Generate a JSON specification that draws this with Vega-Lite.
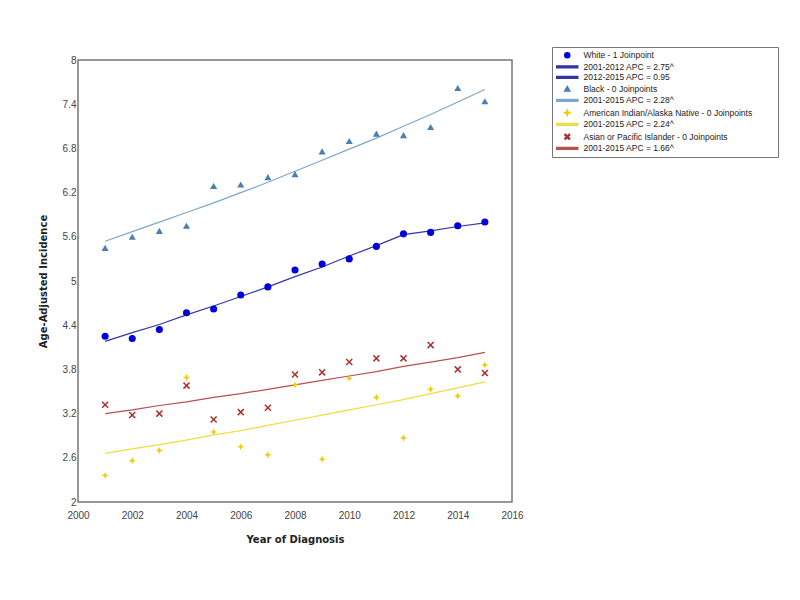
{
  "$schema": "https://vega.github.io/schema/vega-lite/v6.json",
  "width": 434,
  "height": 442,
  "autosize": {"type": "none"},
  "padding": {"left": 78, "top": 60, "right": 288, "bottom": 98},
  "background": "white",
  "config": {
    "view": {"stroke": "#777777", "strokeWidth": 1.5},
    "axis": {
      "domain": false,
      "ticks": false,
      "grid": false,
      "labelFlush": false,
      "labelOverlap": false,
      "labelFont": "Liberation Sans",
      "labelFontSize": 10,
      "labelColor": "#444444",
      "titleFont": "DejaVu Sans",
      "titleFontSize": 10,
      "titleFontWeight": "bold",
      "titleColor": "#222222"
    }
  },
  "datasets": {
    "obs": [
      {"year": 2001, "value": 4.25, "label": "White - 1 Joinpoint"},
      {"year": 2002, "value": 4.22, "label": "White - 1 Joinpoint"},
      {"year": 2003, "value": 4.34, "label": "White - 1 Joinpoint"},
      {"year": 2004, "value": 4.57, "label": "White - 1 Joinpoint"},
      {"year": 2005, "value": 4.62, "label": "White - 1 Joinpoint"},
      {"year": 2006, "value": 4.81, "label": "White - 1 Joinpoint"},
      {"year": 2007, "value": 4.92, "label": "White - 1 Joinpoint"},
      {"year": 2008, "value": 5.15, "label": "White - 1 Joinpoint"},
      {"year": 2009, "value": 5.23, "label": "White - 1 Joinpoint"},
      {"year": 2010, "value": 5.30, "label": "White - 1 Joinpoint"},
      {"year": 2011, "value": 5.47, "label": "White - 1 Joinpoint"},
      {"year": 2012, "value": 5.64, "label": "White - 1 Joinpoint"},
      {"year": 2013, "value": 5.66, "label": "White - 1 Joinpoint"},
      {"year": 2014, "value": 5.75, "label": "White - 1 Joinpoint"},
      {"year": 2015, "value": 5.80, "label": "White - 1 Joinpoint"},
      {"year": 2001, "value": 5.45, "label": "Black - 0 Joinpoints"},
      {"year": 2002, "value": 5.60, "label": "Black - 0 Joinpoints"},
      {"year": 2003, "value": 5.68, "label": "Black - 0 Joinpoints"},
      {"year": 2004, "value": 5.75, "label": "Black - 0 Joinpoints"},
      {"year": 2005, "value": 6.29, "label": "Black - 0 Joinpoints"},
      {"year": 2006, "value": 6.31, "label": "Black - 0 Joinpoints"},
      {"year": 2007, "value": 6.41, "label": "Black - 0 Joinpoints"},
      {"year": 2008, "value": 6.45, "label": "Black - 0 Joinpoints"},
      {"year": 2009, "value": 6.76, "label": "Black - 0 Joinpoints"},
      {"year": 2010, "value": 6.90, "label": "Black - 0 Joinpoints"},
      {"year": 2011, "value": 7.00, "label": "Black - 0 Joinpoints"},
      {"year": 2012, "value": 6.98, "label": "Black - 0 Joinpoints"},
      {"year": 2013, "value": 7.09, "label": "Black - 0 Joinpoints"},
      {"year": 2014, "value": 7.62, "label": "Black - 0 Joinpoints"},
      {"year": 2015, "value": 7.44, "label": "Black - 0 Joinpoints"},
      {"year": 2001, "value": 2.36, "label": "American Indian/Alaska Native - 0 Joinpoints"},
      {"year": 2002, "value": 2.56, "label": "American Indian/Alaska Native - 0 Joinpoints"},
      {"year": 2003, "value": 2.70, "label": "American Indian/Alaska Native - 0 Joinpoints"},
      {"year": 2004, "value": 3.69, "label": "American Indian/Alaska Native - 0 Joinpoints"},
      {"year": 2005, "value": 2.95, "label": "American Indian/Alaska Native - 0 Joinpoints"},
      {"year": 2006, "value": 2.75, "label": "American Indian/Alaska Native - 0 Joinpoints"},
      {"year": 2007, "value": 2.64, "label": "American Indian/Alaska Native - 0 Joinpoints"},
      {"year": 2008, "value": 3.59, "label": "American Indian/Alaska Native - 0 Joinpoints"},
      {"year": 2009, "value": 2.58, "label": "American Indian/Alaska Native - 0 Joinpoints"},
      {"year": 2010, "value": 3.68, "label": "American Indian/Alaska Native - 0 Joinpoints"},
      {"year": 2011, "value": 3.42, "label": "American Indian/Alaska Native - 0 Joinpoints"},
      {"year": 2012, "value": 2.87, "label": "American Indian/Alaska Native - 0 Joinpoints"},
      {"year": 2013, "value": 3.53, "label": "American Indian/Alaska Native - 0 Joinpoints"},
      {"year": 2014, "value": 3.44, "label": "American Indian/Alaska Native - 0 Joinpoints"},
      {"year": 2015, "value": 3.86, "label": "American Indian/Alaska Native - 0 Joinpoints"},
      {"year": 2001, "value": 3.32, "label": "Asian or Pacific Islander - 0 Joinpoints"},
      {"year": 2002, "value": 3.18, "label": "Asian or Pacific Islander - 0 Joinpoints"},
      {"year": 2003, "value": 3.20, "label": "Asian or Pacific Islander - 0 Joinpoints"},
      {"year": 2004, "value": 3.58, "label": "Asian or Pacific Islander - 0 Joinpoints"},
      {"year": 2005, "value": 3.12, "label": "Asian or Pacific Islander - 0 Joinpoints"},
      {"year": 2006, "value": 3.22, "label": "Asian or Pacific Islander - 0 Joinpoints"},
      {"year": 2007, "value": 3.28, "label": "Asian or Pacific Islander - 0 Joinpoints"},
      {"year": 2008, "value": 3.73, "label": "Asian or Pacific Islander - 0 Joinpoints"},
      {"year": 2009, "value": 3.76, "label": "Asian or Pacific Islander - 0 Joinpoints"},
      {"year": 2010, "value": 3.90, "label": "Asian or Pacific Islander - 0 Joinpoints"},
      {"year": 2011, "value": 3.95, "label": "Asian or Pacific Islander - 0 Joinpoints"},
      {"year": 2012, "value": 3.95, "label": "Asian or Pacific Islander - 0 Joinpoints"},
      {"year": 2013, "value": 4.13, "label": "Asian or Pacific Islander - 0 Joinpoints"},
      {"year": 2014, "value": 3.80, "label": "Asian or Pacific Islander - 0 Joinpoints"},
      {"year": 2015, "value": 3.75, "label": "Asian or Pacific Islander - 0 Joinpoints"}
    ],
    "fit": [
      {"year": 2001, "value": 4.18, "seg": "2001-2012 APC = 2.75^"},
      {"year": 2002, "value": 4.30, "seg": "2001-2012 APC = 2.75^"},
      {"year": 2003, "value": 4.41, "seg": "2001-2012 APC = 2.75^"},
      {"year": 2004, "value": 4.54, "seg": "2001-2012 APC = 2.75^"},
      {"year": 2005, "value": 4.66, "seg": "2001-2012 APC = 2.75^"},
      {"year": 2006, "value": 4.79, "seg": "2001-2012 APC = 2.75^"},
      {"year": 2007, "value": 4.92, "seg": "2001-2012 APC = 2.75^"},
      {"year": 2008, "value": 5.06, "seg": "2001-2012 APC = 2.75^"},
      {"year": 2009, "value": 5.19, "seg": "2001-2012 APC = 2.75^"},
      {"year": 2010, "value": 5.34, "seg": "2001-2012 APC = 2.75^"},
      {"year": 2011, "value": 5.48, "seg": "2001-2012 APC = 2.75^"},
      {"year": 2012, "value": 5.63, "seg": "2001-2012 APC = 2.75^"},
      {"year": 2012, "value": 5.63, "seg": "2012-2015 APC = 0.95"},
      {"year": 2013, "value": 5.68, "seg": "2012-2015 APC = 0.95"},
      {"year": 2014, "value": 5.74, "seg": "2012-2015 APC = 0.95"},
      {"year": 2015, "value": 5.79, "seg": "2012-2015 APC = 0.95"},
      {"year": 2001, "value": 5.54, "seg": "2001-2015 APC = 2.28^"},
      {"year": 2002, "value": 5.67, "seg": "2001-2015 APC = 2.28^"},
      {"year": 2003, "value": 5.80, "seg": "2001-2015 APC = 2.28^"},
      {"year": 2004, "value": 5.93, "seg": "2001-2015 APC = 2.28^"},
      {"year": 2005, "value": 6.06, "seg": "2001-2015 APC = 2.28^"},
      {"year": 2006, "value": 6.20, "seg": "2001-2015 APC = 2.28^"},
      {"year": 2007, "value": 6.34, "seg": "2001-2015 APC = 2.28^"},
      {"year": 2008, "value": 6.49, "seg": "2001-2015 APC = 2.28^"},
      {"year": 2009, "value": 6.64, "seg": "2001-2015 APC = 2.28^"},
      {"year": 2010, "value": 6.79, "seg": "2001-2015 APC = 2.28^"},
      {"year": 2011, "value": 6.94, "seg": "2001-2015 APC = 2.28^"},
      {"year": 2012, "value": 7.10, "seg": "2001-2015 APC = 2.28^"},
      {"year": 2013, "value": 7.26, "seg": "2001-2015 APC = 2.28^"},
      {"year": 2014, "value": 7.43, "seg": "2001-2015 APC = 2.28^"},
      {"year": 2015, "value": 7.60, "seg": "2001-2015 APC = 2.28^"},
      {"year": 2001, "value": 2.66, "seg": "2001-2015 APC = 2.24^"},
      {"year": 2002, "value": 2.72, "seg": "2001-2015 APC = 2.24^"},
      {"year": 2003, "value": 2.78, "seg": "2001-2015 APC = 2.24^"},
      {"year": 2004, "value": 2.84, "seg": "2001-2015 APC = 2.24^"},
      {"year": 2005, "value": 2.91, "seg": "2001-2015 APC = 2.24^"},
      {"year": 2006, "value": 2.97, "seg": "2001-2015 APC = 2.24^"},
      {"year": 2007, "value": 3.04, "seg": "2001-2015 APC = 2.24^"},
      {"year": 2008, "value": 3.11, "seg": "2001-2015 APC = 2.24^"},
      {"year": 2009, "value": 3.18, "seg": "2001-2015 APC = 2.24^"},
      {"year": 2010, "value": 3.25, "seg": "2001-2015 APC = 2.24^"},
      {"year": 2011, "value": 3.32, "seg": "2001-2015 APC = 2.24^"},
      {"year": 2012, "value": 3.39, "seg": "2001-2015 APC = 2.24^"},
      {"year": 2013, "value": 3.47, "seg": "2001-2015 APC = 2.24^"},
      {"year": 2014, "value": 3.55, "seg": "2001-2015 APC = 2.24^"},
      {"year": 2015, "value": 3.63, "seg": "2001-2015 APC = 2.24^"},
      {"year": 2001, "value": 3.20, "seg": "2001-2015 APC = 1.66^"},
      {"year": 2002, "value": 3.25, "seg": "2001-2015 APC = 1.66^"},
      {"year": 2003, "value": 3.31, "seg": "2001-2015 APC = 1.66^"},
      {"year": 2004, "value": 3.36, "seg": "2001-2015 APC = 1.66^"},
      {"year": 2005, "value": 3.42, "seg": "2001-2015 APC = 1.66^"},
      {"year": 2006, "value": 3.47, "seg": "2001-2015 APC = 1.66^"},
      {"year": 2007, "value": 3.53, "seg": "2001-2015 APC = 1.66^"},
      {"year": 2008, "value": 3.59, "seg": "2001-2015 APC = 1.66^"},
      {"year": 2009, "value": 3.65, "seg": "2001-2015 APC = 1.66^"},
      {"year": 2010, "value": 3.71, "seg": "2001-2015 APC = 1.66^"},
      {"year": 2011, "value": 3.77, "seg": "2001-2015 APC = 1.66^"},
      {"year": 2012, "value": 3.84, "seg": "2001-2015 APC = 1.66^"},
      {"year": 2013, "value": 3.90, "seg": "2001-2015 APC = 1.66^"},
      {"year": 2014, "value": 3.96, "seg": "2001-2015 APC = 1.66^"},
      {"year": 2015, "value": 4.03, "seg": "2001-2015 APC = 1.66^"}
    ]
  },
  "encoding": {
    "x": {
      "field": "year",
      "type": "quantitative",
      "scale": {"domain": [2000, 2016], "nice": false, "zero": false},
      "axis": {
        "title": "Year of Diagnosis",
        "values": [2000, 2002, 2004, 2006, 2008, 2010, 2012, 2014, 2016],
        "format": "d",
        "labelPadding": 8,
        "titlePadding": 14
      }
    },
    "y": {
      "field": "value",
      "type": "quantitative",
      "scale": {"domain": [2, 8], "nice": false, "zero": false},
      "axis": {
        "title": "Age-Adjusted Incidence",
        "values": [2, 2.6, 3.2, 3.8, 4.4, 5, 5.6, 6.2, 6.8, 7.4, 8],
        "format": "~g",
        "labelPadding": 2,
        "titlePadding": 14
      }
    }
  },
  "layer": [
    {
      "data": {"name": "fit"},
      "mark": {"type": "line", "strokeWidth": 1.2},
      "encoding": {
        "color": {
          "field": "seg",
          "type": "nominal",
          "scale": {
            "domain": ["White - 1 Joinpoint", "2001-2012 APC = 2.75^", "2012-2015 APC = 0.95", "Black - 0 Joinpoints", "2001-2015 APC = 2.28^", "American Indian/Alaska Native - 0 Joinpoints", "2001-2015 APC = 2.24^", "Asian or Pacific Islander - 0 Joinpoints", "2001-2015 APC = 1.66^"],
            "range": ["#0000dd", "#3535aa", "#3535aa", "#4a7fb0", "#7fa7c9", "#f2cc00", "#f0dc40", "#a83232", "#b85050"]
          },
          "legend": {
            "title": " ",
            "titleOrient": "right",
            "titlePadding": 22,
            "orient": "none",
            "legendX": 474,
            "legendY": -13,
            "padding": 4,
            "strokeColor": "#777777",
            "fillColor": "white",
            "labelFont": "Liberation Sans",
            "labelFontSize": 8.5,
            "labelColor": "#222222",
            "labelLimit": 400,
            "labelOffset": 12,
            "symbolOffset": 7,
            "symbolSize": 25,
            "rowPadding": 1.5,
            "encode": {
              "symbols": {
                "update": {
                  "shape": {"scale": "shape", "field": "value"},
                  "fill": {"scale": "color", "field": "value"},
                  "stroke": {"value": "transparent"},
                  "size": {"value": 25},
                  "opacity": {"value": 1}
                }
              }
            }
          }
        }
      }
    },
    {
      "data": {"name": "obs"},
      "mark": {"type": "point", "filled": true, "size": 50, "opacity": 1},
      "encoding": {
        "color": {
          "field": "label",
          "type": "nominal"
        },
        "shape": {
          "field": "label",
          "type": "nominal",
          "scale": {
            "domain": ["White - 1 Joinpoint", "2001-2012 APC = 2.75^", "2012-2015 APC = 0.95", "Black - 0 Joinpoints", "2001-2015 APC = 2.28^", "American Indian/Alaska Native - 0 Joinpoints", "2001-2015 APC = 2.24^", "Asian or Pacific Islander - 0 Joinpoints", "2001-2015 APC = 1.66^"],
            "range": ["circle", "M-4.2,-0.35H4.2V0.35H-4.2Z", "M-4.2,-0.35H4.2V0.35H-4.2Z", "triangle-up", "M-4.2,-0.35H4.2V0.35H-4.2Z", "M0,-1L0.3,-0.3L1,0L0.3,0.3L0,1L-0.3,0.3L-1,0L-0.3,-0.3Z", "M-4.2,-0.35H4.2V0.35H-4.2Z", "M-1,-0.7L-0.7,-1L0,-0.3L0.7,-1L1,-0.7L0.3,0L1,0.7L0.7,1L0,0.3L-0.7,1L-1,0.7L-0.3,0Z", "M-4.2,-0.35H4.2V0.35H-4.2Z"]
          },
          "legend": null
        }
      }
    }
  ]
}
